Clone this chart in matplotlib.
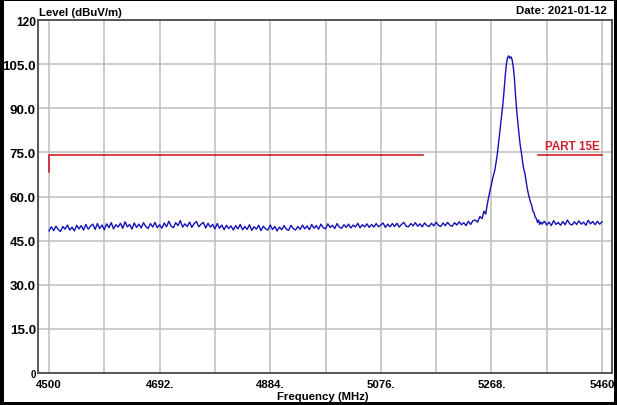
import numpy as np
import matplotlib
matplotlib.use('Agg')
import matplotlib.pyplot as plt
from matplotlib.patches import Rectangle

# ---------------- data ----------------
left_start = 4500      # MHz, sweep start of left noise floor
left_step = 4          # MHz between readings
left_levels = [
    48.3, 49.7, 48.4, 49.9, 48.8, 48.1, 49.8, 48.9, 50.3, 48.6,
    49.6, 48.3, 50.2, 49.0, 50.1, 48.6, 50.5, 48.9, 49.9, 50.6,
    48.8, 50.8, 49.1, 50.3, 48.7, 50.7, 49.4, 51.1, 49.0, 50.4,
    49.6, 50.9, 49.2, 51.4, 49.7, 50.5, 48.9, 51.0, 49.5, 50.6,
    49.3, 51.1, 49.8, 49.1, 50.8, 49.6, 51.2, 49.4, 50.4, 49.2,
    51.0, 49.7, 51.6, 49.9, 49.4, 51.1, 50.1, 51.8, 49.6, 50.7,
    49.8, 51.3, 49.5, 50.8, 51.5, 49.7, 50.6, 51.2, 49.3, 50.9,
    49.6, 50.5, 49.0, 50.8, 49.2, 50.3, 48.7, 50.2, 49.1, 50.0,
    48.6, 50.1, 49.0, 50.5, 48.7, 49.8, 48.8, 50.4, 48.5, 49.7,
    48.9, 50.2, 48.4, 49.9, 49.0, 48.6, 50.3, 48.8, 49.8, 48.3,
    49.6, 48.7, 50.1, 48.9, 48.5, 50.2, 49.1, 48.6, 49.8, 48.8,
    50.3, 49.0, 50.0, 48.7, 50.5, 49.2, 50.1, 48.9, 50.6, 49.4,
    49.0, 50.7, 49.5, 50.2, 49.1, 50.8, 49.6, 49.2, 50.4, 49.5,
    50.6, 49.3, 50.3, 49.6, 50.9, 49.4, 50.4, 49.7, 50.7, 49.5,
    50.5, 49.6, 50.8, 49.7, 50.3, 51.0, 49.5, 50.6, 49.7, 50.8,
    49.8, 50.9, 49.6, 50.5, 51.2, 49.9, 49.7, 50.8, 50.0, 51.1,
    49.9, 50.7, 49.7, 51.0, 50.1, 49.8, 50.9, 50.0, 51.3, 50.2,
    49.8, 51.0, 50.1, 51.2, 50.2, 49.9, 51.1, 50.3, 51.4, 50.4,
    51.1, 50.1, 51.6, 50.5, 51.8,
]

peak_freqs = [
    5240, 5244, 5248, 5252, 5255, 5258, 5261, 5264, 5266, 5268,
    5270, 5272, 5274, 5276, 5278, 5280, 5282, 5284, 5286, 5288,
    5290, 5292, 5294, 5296, 5298, 5300, 5302, 5304, 5306, 5308,
    5310, 5312, 5314, 5316, 5318, 5320, 5322, 5324, 5326, 5328,
    5330, 5332, 5334, 5336, 5338, 5340, 5342, 5344, 5346, 5348,
    5350, 5352, 5354,
]
peak_levels = [
    52.0, 51.3, 53.2, 52.5, 55.0, 54.0, 57.5, 60.5, 62.5, 64.0,
    66.0, 67.5, 69.0, 71.5, 74.0, 77.5, 81.0, 84.5, 88.0, 91.5,
    96.0, 101.0, 105.0, 107.2, 107.8, 107.0, 107.5, 106.5, 104.0, 100.0,
    94.0, 89.0, 85.0, 81.0, 77.5, 75.0, 72.0, 69.5, 68.0, 65.5,
    63.0, 61.0, 59.5, 58.0, 57.0, 55.0, 54.5, 53.0, 52.5, 51.2,
    52.0, 50.5, 51.3,
]

right_start = 5356
right_step = 4
right_levels = [
    50.6, 51.6, 50.3, 51.3, 50.1, 51.8, 50.5, 51.2, 50.2, 51.5,
    50.4, 52.0, 50.7, 50.3, 51.4, 50.5, 51.7, 50.6, 51.3, 50.2,
    51.9, 50.7, 51.5, 50.4, 51.6, 50.6, 51.4,
]

limit_freqs = [4500, 4500, 5149, np.nan, 5349, 5460]
limit_levels = [68.2, 74.0, 74.0, np.nan, 74.0, 74.0]
limit_label = "PART 15E"

x_ticks = [4500, 4596, 4692, 4788, 4884, 4980, 5076, 5172, 5268, 5364, 5460]
x_labels = ["4500", "", "4692.", "", "4884.", "", "5076.", "", "5268.", "", "5460"]
y_ticks = [0, 15, 30, 45, 60, 75, 90, 105, 120]
y_labels = ["0", "15.0", "30.0", "45.0", "60.0", "75.0", "90.0", "105.0", "120"]

# ---------------- figure ----------------
W, H = 617, 406
fig = plt.figure(figsize=(W / 100, H / 100), dpi=100)
fig.patch.set_facecolor('white')
FONT = ['Liberation Sans', 'DejaVu Sans']

ax = fig.add_axes([38 / W, 32 / H, 574 / W, 353 / H])

left_freqs = left_start + left_step * np.arange(len(left_levels))
right_freqs = right_start + right_step * np.arange(len(right_levels))
freqs = np.concatenate([left_freqs, peak_freqs, right_freqs])
levels = np.concatenate([left_levels, peak_levels, right_levels])

ax.plot(limit_freqs, limit_levels, color='#cc1f2a', lw=1.2, zorder=3)
ax.plot(freqs, levels, color='#1212b8', lw=1.0, zorder=4)

ax.text(5361, 77.2, limit_label, color='#d0202a', fontsize=8.4,
        fontweight='bold', family=FONT, ha='left', va='center')

px_per_mhz = 553 / 960
ax.set_xlim(4500 - 11 / px_per_mhz, 5460 + 10 / px_per_mhz)
ax.set_ylim(0, 120)

ax.set_xticks(x_ticks)
ax.set_xticklabels(x_labels)
ax.set_yticks(y_ticks)
ax.set_yticklabels(y_labels)
ax.tick_params(axis='both', length=0)
ax.tick_params(axis='x', pad=4)
ax.tick_params(axis='y', pad=1.5)
for lab in ax.get_xticklabels():
    lab.set_fontsize(8.2)
    lab.set_fontweight('bold')
    lab.set_family(FONT)
for lab in ax.get_yticklabels():
    lab.set_fontweight('bold')
    lab.set_family(FONT)
    t = lab.get_text()
    if t == "0":
        lab.set_fontsize(7)
    elif t == "120":
        lab.set_fontsize(8.6)
    else:
        lab.set_fontsize(9.6)

ax.grid(True, color='#bdbdbd', lw=1.1, zorder=0)
ax.set_axisbelow(True)
for s in ax.spines.values():
    s.set_color('#4a4a4a')
    s.set_linewidth(1.3)

fig.text(39 / W, 1 - 13.5 / H, "Level (dBuV/m)", fontsize=8.2, fontweight='bold',
         family=FONT, ha='left', va='center')
fig.text(607 / W, 1 - 11 / H, "Date: 2021-01-12", fontsize=8.2, fontweight='bold',
         family=FONT, ha='right', va='center')
fig.text(323 / W, 1 - 397 / H, "Frequency (MHz)", fontsize=8.2, fontweight='bold',
         family=FONT, ha='center', va='center')

# black frame around the picture
for (x0, y0, w, h) in [(0, 0, 4, H), (W - 3, 0, 3, H), (0, H - 2, W, 2), (0, 0, W, 3)]:
    fig.add_artist(Rectangle((x0 / W, y0 / H), w / W, h / H, transform=fig.transFigure,
                             color='black', lw=0, zorder=10))

fig.savefig('out.png', dpi=100, facecolor='white')
